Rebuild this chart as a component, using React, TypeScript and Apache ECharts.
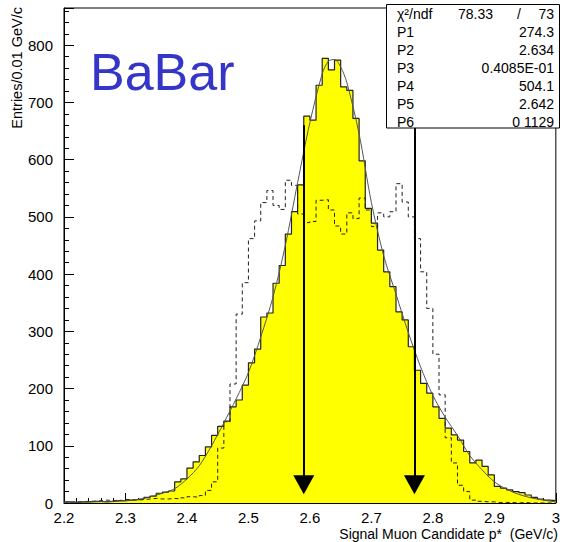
import React, { useEffect, useRef } from "react";
import * as echarts from "echarts";

// histogram binning: 80 bins of 0.01 GeV/c from 2.2 to 3.0
const binStart = 2.2;
const binWidth = 0.01;

// signal MC (yellow filled histogram)
const signalCounts = [
  2, 1, 2, 2, 3, 3, 2, 3, 4, 4,
  5, 6, 7, 10, 12, 17, 19, 21, 37, 42,
  61, 72, 83, 98, 118, 134, 143, 168, 180, 206,
  245, 269, 325, 332, 384, 415, 470, 509, 556, 676,
  669, 730, 777, 757, 774, 727, 721, 672, 598, 515,
  489, 442, 404, 378, 334, 320, 273, 232, 209, 192,
  168, 148, 131, 119, 110, 90, 70, 75, 64, 49,
  29, 26, 23, 20, 18, 14, 10, 7, 5, 4,
];

// other sample (dashed histogram)
const dashedCounts = [
  1, 2, 2, 3, 3, 4, 5, 4, 5, 4,
  6, 5, 6, 7, 8, 7, 7, 8, 7, 9,
  11, 10, 13, 22, 37, 96, 142, 208, 330, 385,
  462, 493, 525, 546, 520, 513, 564, 555, 505, 490,
  492, 529, 530, 512, 484, 470, 507, 497, 533, 512,
  483, 507, 500, 509, 558, 526, 500, 462, 404, 340,
  260, 189, 114, 70, 31, 20, 5, 3, 2, 2,
  1, 1, 1, 0, 1, 0, 0, 0, 0, 0,
];

// fit curve
const fitX = [
  2.2, 2.25, 2.3, 2.33, 2.36, 2.38, 2.4, 2.42, 2.44, 2.46, 2.48, 2.5, 2.52,
  2.54, 2.56, 2.58, 2.6, 2.62, 2.63, 2.64, 2.65, 2.66, 2.68, 2.7, 2.72, 2.74,
  2.76, 2.78, 2.8, 2.82, 2.84, 2.86, 2.88, 2.9, 2.92, 2.94, 2.96, 2.98, 3.0,
];
const fitY = [
  1, 2, 4, 8, 17, 25, 42, 65, 100, 140, 182, 228, 290,
  360, 450, 560, 665, 750, 772, 775, 762, 735, 645, 525, 432, 365,
  298, 238, 188, 150, 118, 83, 58, 37, 24, 15, 9, 5, 2,
];

// cut positions (arrows)
const cuts = [2.59, 2.77];
const arrowTop = 660;
const arrowEnd = 32;

// fit box
const chi2 = "78.33";
const ndf = "73";
const parNames = ["P1", "P2", "P3", "P4", "P5", "P6"];
const parValues = ["274.3", "2.634", "0.4085E-01", "504.1", "2.642", "0 1129"];

const stepData = (counts: number[]) => {
  const pts = counts.map((v, i) => [
    Math.round((binStart + i * binWidth) * 1000) / 1000,
    v,
  ]);
  pts.push([
    Math.round((binStart + counts.length * binWidth) * 1000) / 1000,
    counts[counts.length - 1],
  ]);
  return pts;
};

const FONT = "Liberation Sans, Arial, sans-serif";

export default function App() {
  const chartRef = useRef<HTMLDivElement>(null);

  useEffect(() => {
    document.body.style.margin = "0";
    if (!chartRef.current) return;
    const chart = echarts.init(chartRef.current, null, { renderer: "svg" });

    const boxFont = `14px ${FONT}`;
    const boxTexts: any[] = [
      { type: "text", x: 397, y: 14, style: { text: "χ²/ndf", font: boxFont, fill: "#000", verticalAlign: "middle" } },
      { type: "text", x: 493, y: 14, style: { text: chi2, font: boxFont, fill: "#000", align: "right", verticalAlign: "middle" } },
      { type: "text", x: 519, y: 14, style: { text: "/", font: boxFont, fill: "#000", align: "center", verticalAlign: "middle" } },
      { type: "text", x: 554, y: 14, style: { text: ndf, font: boxFont, fill: "#000", align: "right", verticalAlign: "middle" } },
    ];
    parNames.forEach((n, i) => {
      const y = 31.5 + i * 18;
      boxTexts.push({ type: "text", x: 397, y, style: { text: n, font: boxFont, fill: "#000", verticalAlign: "middle" } });
      boxTexts.push({
        type: "text",
        x: 554,
        y,
        style: { text: parValues[i], font: boxFont, fill: "#000", align: "right", verticalAlign: "middle" },
      });
    });

    chart.setOption({
      animation: false,
      grid: {
        left: 64,
        right: 5,
        top: 8,
        bottom: 39,
        show: true,
        borderColor: "#000",
        borderWidth: 1,
      },
      xAxis: {
        type: "value",
        min: 2.2,
        max: 3.0,
        interval: 0.1,
        axisLine: { lineStyle: { color: "#000", width: 1 } },
        axisTick: { inside: true, length: 10, lineStyle: { color: "#000" } },
        minorTick: { show: true, splitNumber: 5, length: 5, lineStyle: { color: "#000" } },
        splitLine: { show: false },
        axisLabel: {
          color: "#000",
          fontSize: 15,
          fontFamily: FONT,
          margin: 7,
          formatter: (v: number) => String(Math.round(v * 10) / 10),
        },
      },
      yAxis: {
        type: "value",
        min: 0,
        max: 865,
        interval: 100,
        axisLine: { show: true, lineStyle: { color: "#000", width: 1 } },
        axisTick: { show: true, inside: true, length: 10, lineStyle: { color: "#000" } },
        minorTick: { show: true, splitNumber: 5, length: 5, lineStyle: { color: "#000" } },
        splitLine: { show: false },
        axisLabel: {
          color: "#000",
          fontSize: 15,
          fontFamily: FONT,
          margin: 11,
          showMaxLabel: false,
        },
      },
      series: [
        {
          type: "line",
          step: "end",
          data: stepData(signalCounts),
          symbol: "none",
          lineStyle: { color: "#222", width: 1.2 },
          areaStyle: { color: "#ffff00", opacity: 1 },
          z: 1,
          silent: true,
        },
        {
          type: "line",
          step: "end",
          data: stepData(dashedCounts),
          symbol: "none",
          lineStyle: { color: "#222", width: 1, type: [4, 3] },
          z: 2,
          silent: true,
        },
        {
          type: "line",
          data: fitX.map((x, i) => [x, fitY[i]]),
          smooth: 0.3,
          symbol: "none",
          lineStyle: { color: "#555", width: 1 },
          z: 3,
          silent: true,
          markLine: {
            silent: true,
            symbol: ["none", "triangle"],
            symbolSize: [21, 19],
            label: { show: false },
            lineStyle: { color: "#000", width: 2, type: "solid" },
            emphasis: { disabled: true },
            data: cuts.map((c) => [{ coord: [c, arrowTop] }, { coord: [c, arrowEnd] }]),
          },
        },
      ],
      graphic: [
        {
          type: "rect",
          z: 100,
          shape: { x: 386.5, y: 4.5, width: 173, height: 123.5 },
          style: { fill: "#fff", stroke: "#000", lineWidth: 1 },
        },
        ...boxTexts.map((t) => ({ ...t, z: 101 })),
        {
          type: "text",
          z: 101,
          x: 90,
          y: 72,
          style: {
            text: "BaBar",
            font: `52px ${FONT}`,
            fill: "#3535c8",
            verticalAlign: "middle",
          },
        },
        {
          type: "text",
          z: 101,
          x: 17,
          y: 7,
          rotation: Math.PI / 2,
          style: {
            text: "Entries/0.01 GeV/c",
            font: `14.5px ${FONT}`,
            fill: "#000",
            align: "right",
            verticalAlign: "middle",
          },
        },
        {
          type: "text",
          z: 101,
          x: 558,
          y: 534,
          style: {
            text: "Signal Muon Candidate p*  (GeV/c)",
            font: `14px ${FONT}`,
            fill: "#000",
            align: "right",
            verticalAlign: "middle",
          },
        },
      ],
    });

    return () => {
      chart.dispose();
    };
  }, []);

  return <div ref={chartRef} style={{ width: 563, height: 542 }} />;
}
